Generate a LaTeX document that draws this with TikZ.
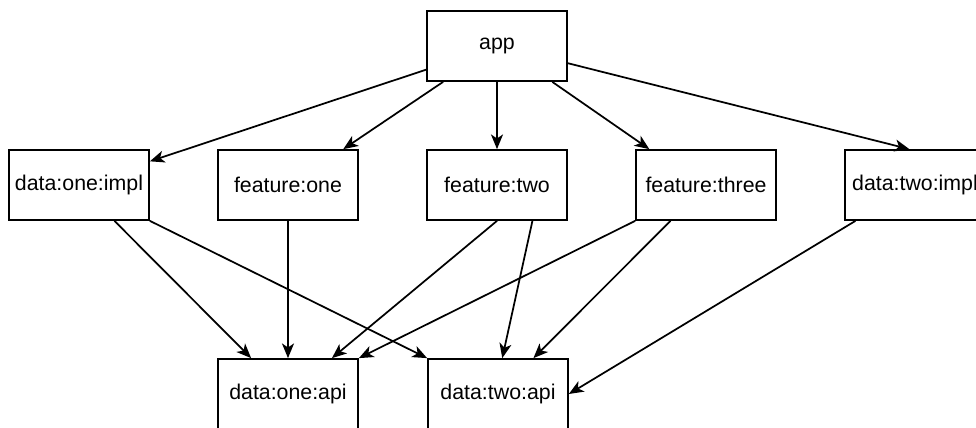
\documentclass[tikz,border=0pt]{standalone}
\usepackage{fontspec}
\setmainfont{Liberation Sans}
\usetikzlibrary{arrows.meta,calc}
\begin{document}
\begin{tikzpicture}[x=0.75pt,y=-0.75pt,
  box/.style={draw,line width=1.3pt,minimum width=105pt,minimum height=52.5pt,inner sep=0pt,font=\fontsize{16}{19}\selectfont},
  dep/.style={line width=1.3pt,-{Stealth[length=11pt,width=9pt,inset=3pt]}}]
\useasboundingbox (0,0) rectangle (976,428);
\node[box] (app) at (497,46) {app};
\node[box] (doimpl) at (79,185) {data:one:impl};
\node[box] (fone) at (288,185) {feature:one};
\node[box] (ftwo) at (497,185) {feature:two};
\node[box] (fthree) at (706,185) {feature:three};
\node[box] (dtimpl) at (915,185) {data:two:impl};
\node[box] (doapi) at (288,394) {data:one:api};
\node[box] (dtapi) at (498,394) {data:two:api};
% app
\draw[dep] ($(app.north west)!0.83!(app.south west)$) -- ($(doimpl.north east)!0.17!(doimpl.south east)$);
\draw[dep] ($(app.south west)!0.12!(app.south east)$) -- ($(fone.north west)!0.89!(fone.north east)$);
\draw[dep] (app.south) -- (ftwo.north);
\draw[dep] ($(app.south west)!0.89!(app.south east)$) -- ($(fthree.north west)!0.1!(fthree.north east)$);
\draw[dep] ($(app.north east)!0.74!(app.south east)$) -- ($(dtimpl.north west)!0.46!(dtimpl.north east)$);
% middle row
\draw[dep] ($(doimpl.south west)!0.75!(doimpl.south east)$) -- ($(doapi.north west)!0.24!(doapi.north east)$);
\draw[dep] (doimpl.south east) -- (dtapi.north west);
\draw[dep] (fone.south) -- (doapi.north);
\draw[dep] (ftwo.south) -- ($(doapi.north west)!0.81!(doapi.north east)$);
\draw[dep] ($(ftwo.south west)!0.75!(ftwo.south east)$) -- ($(dtapi.north west)!0.53!(dtapi.north east)$);
\draw[dep] (fthree.south west) -- (doapi.north east);
\draw[dep] ($(fthree.south west)!0.25!(fthree.south east)$) -- ($(dtapi.north west)!0.75!(dtapi.north east)$);
\draw[dep] ($(dtimpl.south west)!0.08!(dtimpl.south east)$) -- (dtapi.east);
\end{tikzpicture}
\end{document}
